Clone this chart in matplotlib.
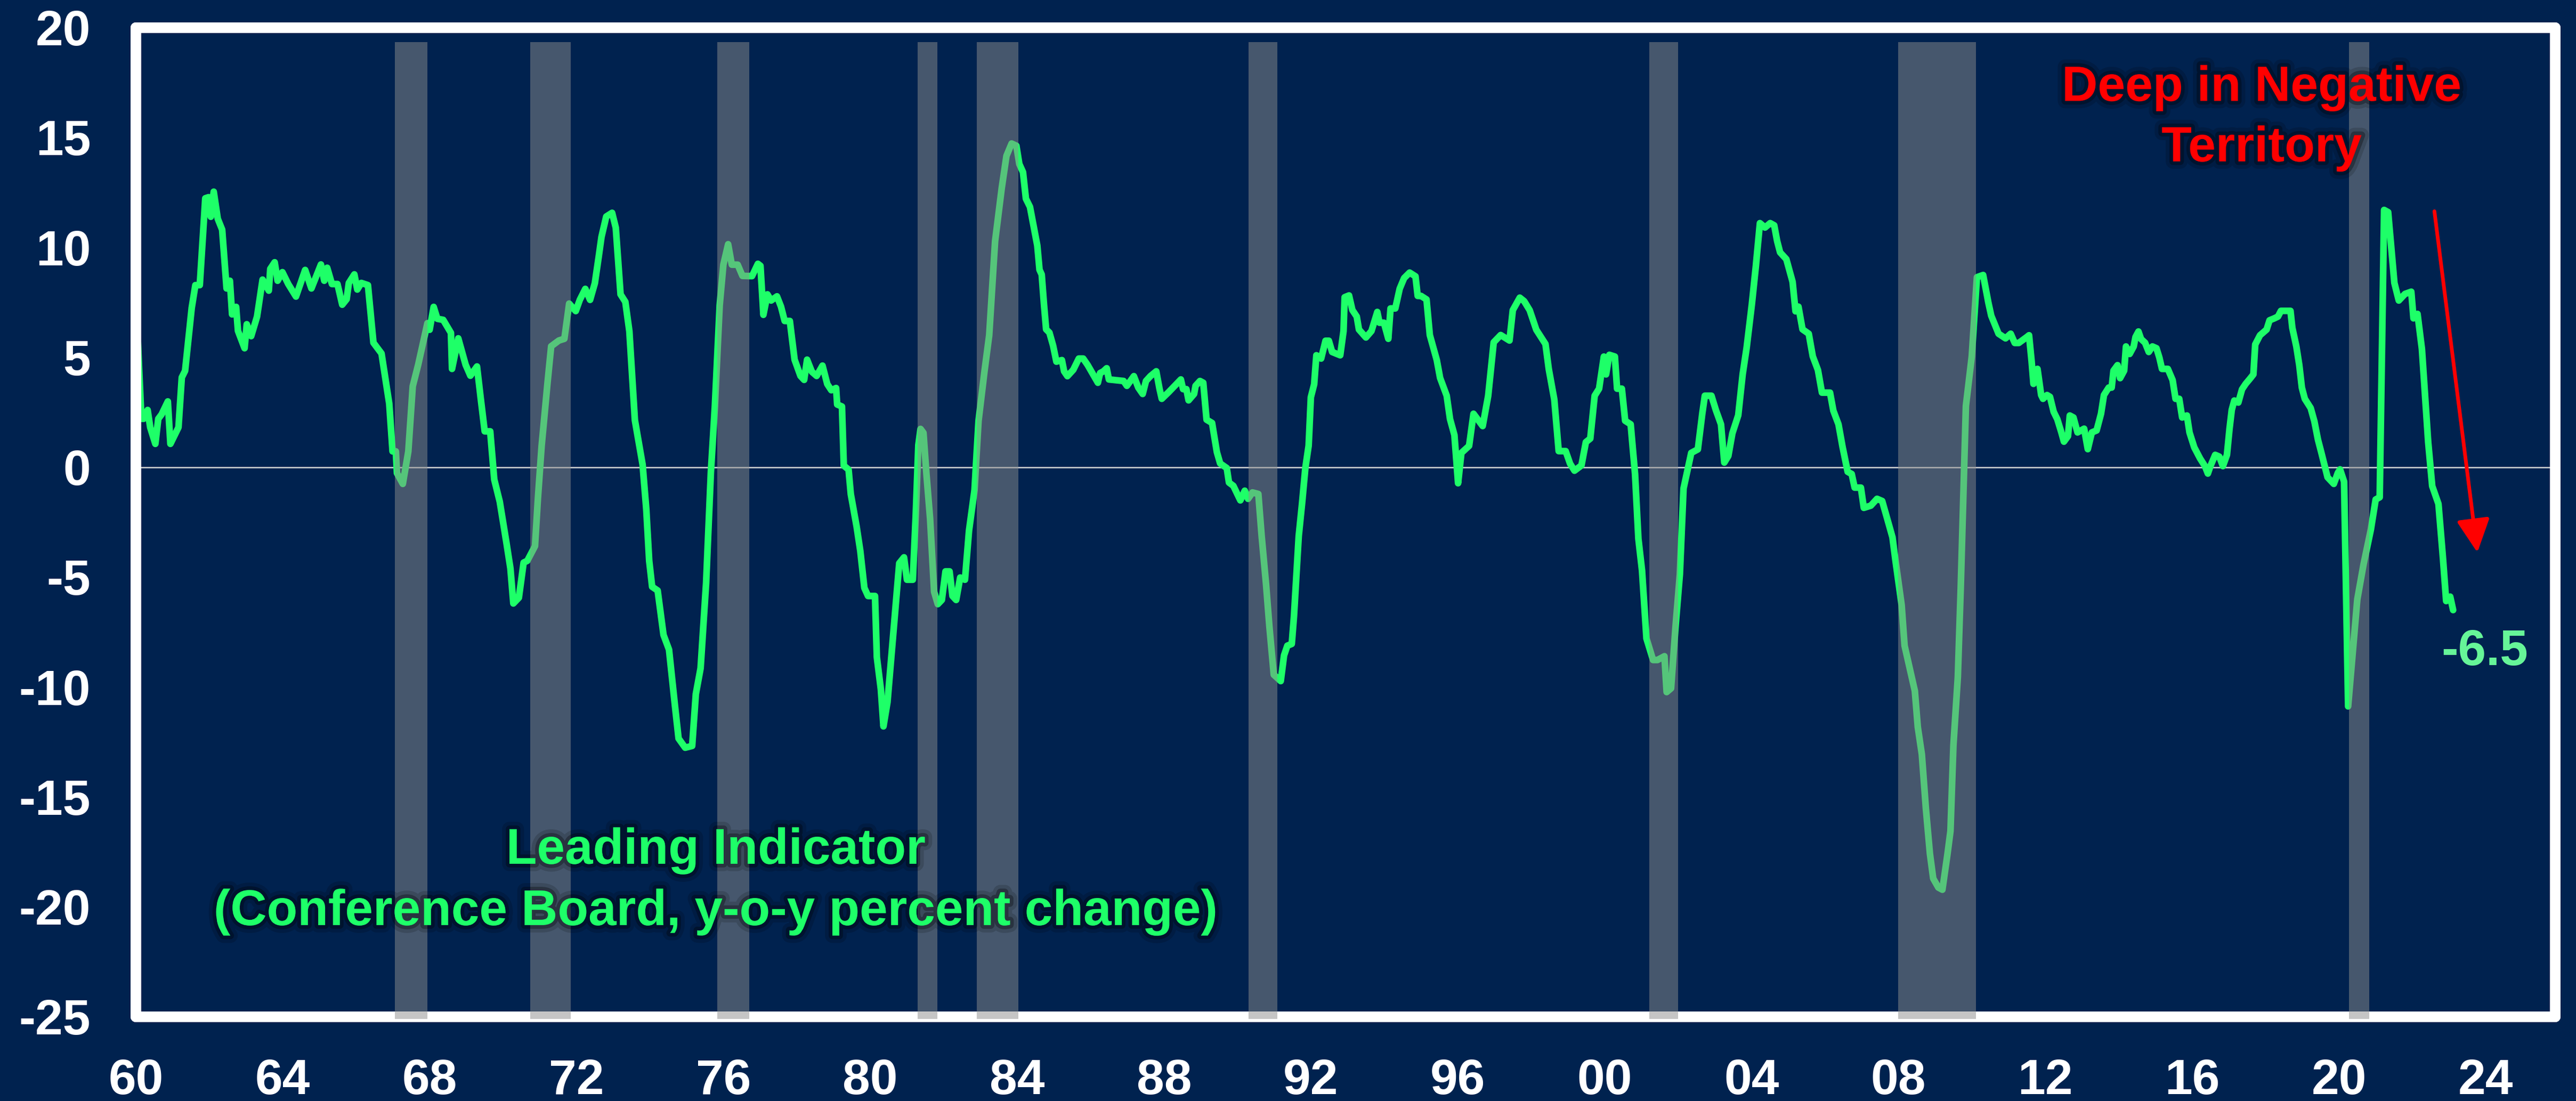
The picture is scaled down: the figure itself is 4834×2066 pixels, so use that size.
import matplotlib
matplotlib.use("Agg")
import matplotlib.pyplot as plt
import matplotlib.patheffects as pe
from matplotlib.patches import FancyArrowPatch

plt.rcParams['axes.unicode_minus'] = False

# Leading indicator, y-o-y % change
lei_year = [
    1960.04, 1960.15, 1960.21, 1960.32, 1960.39, 1960.53, 1960.61, 1960.70, 1960.87, 1960.94,
    1961.16, 1961.25, 1961.34, 1961.52, 1961.62, 1961.74, 1961.89, 1961.98, 1962.04, 1962.12,
    1962.23, 1962.35, 1962.47, 1962.56, 1962.62, 1962.73, 1962.78, 1962.96, 1963.02, 1963.14,
    1963.30, 1963.45, 1963.62, 1963.66, 1963.78, 1963.86, 1963.99, 1964.15, 1964.36, 1964.61,
    1964.78, 1965.04, 1965.13, 1965.21, 1965.34, 1965.49, 1965.62, 1965.74, 1965.80, 1965.95,
    1966.03, 1966.14, 1966.32, 1966.47, 1966.69, 1966.90, 1966.99, 1967.08, 1967.11, 1967.27,
    1967.42, 1967.54, 1967.69, 1967.94, 1968.00, 1968.11, 1968.21, 1968.37, 1968.58, 1968.61,
    1968.78, 1968.98, 1969.11, 1969.29, 1969.39, 1969.50, 1969.65, 1969.76, 1969.91, 1970.09,
    1970.20, 1970.28, 1970.43, 1970.56, 1970.66, 1970.87, 1970.95, 1971.05, 1971.21, 1971.31,
    1971.52, 1971.67, 1971.80, 1971.98, 1972.09, 1972.24, 1972.37, 1972.50, 1972.61, 1972.68,
    1972.81, 1972.97, 1973.07, 1973.20, 1973.33, 1973.44, 1973.59, 1973.80, 1973.90, 1973.98,
    1974.06, 1974.21, 1974.37, 1974.52, 1974.68, 1974.78, 1974.96, 1975.15, 1975.25, 1975.38,
    1975.53, 1975.66, 1975.77, 1975.90, 1976.00, 1976.13, 1976.23, 1976.39, 1976.52, 1976.78,
    1976.94, 1977.01, 1977.09, 1977.20, 1977.30, 1977.46, 1977.57, 1977.67, 1977.81, 1977.94,
    1978.10, 1978.20, 1978.28, 1978.41, 1978.54, 1978.70, 1978.83, 1978.94, 1979.07, 1979.10,
    1979.23, 1979.28, 1979.41, 1979.47, 1979.63, 1979.73, 1979.84, 1979.94, 1980.13, 1980.18,
    1980.29, 1980.36, 1980.47, 1980.63, 1980.79, 1980.92, 1981.00, 1981.16, 1981.24, 1981.31,
    1981.37, 1981.45, 1981.53, 1981.63, 1981.74, 1981.84, 1981.95, 1982.05, 1982.16, 1982.24,
    1982.34, 1982.45, 1982.58, 1982.69, 1982.84, 1982.95, 1983.11, 1983.24, 1983.40, 1983.58,
    1983.71, 1983.85, 1983.98, 1984.06, 1984.16, 1984.24, 1984.35, 1984.55, 1984.61, 1984.67,
    1984.73, 1984.79, 1984.88, 1984.98, 1985.07, 1985.22, 1985.28, 1985.37, 1985.53, 1985.68,
    1985.80, 1985.92, 1986.20, 1986.26, 1986.35, 1986.44, 1986.50, 1986.90, 1986.99, 1987.18,
    1987.30, 1987.42, 1987.51, 1987.63, 1987.79, 1987.88, 1987.94, 1988.12, 1988.46, 1988.52,
    1988.61, 1988.67, 1988.82, 1988.86, 1988.98, 1989.07, 1989.16, 1989.31, 1989.44, 1989.53,
    1989.71, 1989.77, 1989.89, 1990.08, 1990.20, 1990.29, 1990.41, 1990.57, 1990.66, 1990.78,
    1990.87, 1990.99, 1991.18, 1991.27, 1991.36, 1991.48, 1991.54, 1991.67, 1991.76, 1991.85,
    1991.94, 1992.00, 1992.09, 1992.15, 1992.28, 1992.40, 1992.49, 1992.58, 1992.80, 1992.89,
    1992.92, 1993.04, 1993.13, 1993.25, 1993.31, 1993.50, 1993.65, 1993.81, 1993.87, 1993.99,
    1994.11, 1994.17, 1994.30, 1994.42, 1994.54, 1994.69, 1994.85, 1994.91, 1995.00, 1995.15,
    1995.24, 1995.43, 1995.52, 1995.70, 1995.79, 1995.91, 1996.01, 1996.10, 1996.31, 1996.43,
    1996.68, 1996.83, 1996.98, 1997.17, 1997.41, 1997.50, 1997.69, 1997.81, 1997.96, 1998.14,
    1998.39, 1998.48, 1998.63, 1998.75, 1998.94, 1999.06, 1999.18, 1999.37, 1999.49, 1999.61,
    1999.73, 1999.85, 1999.98, 2000.04, 2000.13, 2000.28, 2000.34, 2000.47, 2000.56, 2000.71,
    2000.83, 2000.92, 2001.02, 2001.14, 2001.32, 2001.44, 2001.63, 2001.69, 2001.81, 2001.93,
    2002.05, 2002.15, 2002.36, 2002.54, 2002.66, 2002.73, 2002.91, 2003.03, 2003.17, 2003.26,
    2003.37, 2003.48, 2003.64, 2003.76, 2003.87, 2004.01, 2004.12, 2004.23, 2004.37, 2004.51,
    2004.62, 2004.70, 2004.78, 2004.95, 2005.12, 2005.20, 2005.28, 2005.39, 2005.56, 2005.67,
    2005.81, 2005.92, 2006.14, 2006.23, 2006.37, 2006.48, 2006.62, 2006.73, 2006.81, 2006.98,
    2007.06, 2007.25, 2007.42, 2007.56, 2007.70, 2007.84, 2007.92, 2008.09, 2008.17, 2008.31,
    2008.45, 2008.53, 2008.64, 2008.75, 2008.86, 2008.95, 2009.09, 2009.20, 2009.34, 2009.42,
    2009.50, 2009.62, 2009.70, 2009.84, 2010.00, 2010.14, 2010.31, 2010.45, 2010.53, 2010.73,
    2010.92, 2011.06, 2011.17, 2011.28, 2011.50, 2011.56, 2011.63, 2011.68, 2011.79, 2011.89,
    2011.94, 2012.05, 2012.13, 2012.23, 2012.33, 2012.44, 2012.51, 2012.62, 2012.67, 2012.77,
    2012.88, 2013.06, 2013.16, 2013.27, 2013.40, 2013.52, 2013.60, 2013.73, 2013.81, 2013.86,
    2013.97, 2014.04, 2014.15, 2014.20, 2014.30, 2014.41, 2014.46, 2014.54, 2014.61, 2014.72,
    2014.82, 2014.92, 2015.03, 2015.11, 2015.18, 2015.34, 2015.47, 2015.55, 2015.65, 2015.73,
    2015.86, 2015.93, 2016.06, 2016.22, 2016.35, 2016.43, 2016.50, 2016.63, 2016.74, 2016.84,
    2016.95, 2017.02, 2017.08, 2017.15, 2017.26, 2017.36, 2017.46, 2017.59, 2017.67, 2017.72,
    2017.85, 2018.03, 2018.11, 2018.24, 2018.34, 2018.42, 2018.55, 2018.68, 2018.73, 2018.84,
    2018.92, 2018.99, 2019.07, 2019.23, 2019.33, 2019.43, 2019.51, 2019.69, 2019.86, 2019.97,
    2020.03, 2020.14, 2020.25, 2020.50, 2020.67, 2020.87, 2021.00, 2021.11, 2021.23, 2021.34,
    2021.51, 2021.63, 2021.80, 2021.97, 2022.03, 2022.14, 2022.26, 2022.43, 2022.54, 2022.71,
    2022.83, 2022.92, 2023.03, 2023.11,
]
lei_value = [
    6.25, 2.20, 2.20, 2.60, 1.81, 1.06, 2.20, 2.40, 2.99, 1.06,
    1.81, 4.08, 4.38, 7.24, 8.28, 8.28, 12.23, 12.28, 11.39, 12.53,
    11.30, 10.80, 8.13, 8.48, 6.95, 7.29, 6.20, 5.41, 6.50, 5.96,
    6.85, 8.53, 8.03, 9.02, 9.32, 8.48, 8.87, 8.33, 7.76, 8.97,
    8.13, 9.22, 8.48, 9.07, 8.33, 8.33, 7.39, 7.64, 8.38, 8.77,
    8.08, 8.38, 8.28, 5.66, 5.17, 2.89, 0.72, 0.72, -0.27, -0.76,
    0.72, 3.68, 4.67, 6.55, 6.25, 7.29, 6.75, 6.70, 6.11, 4.47,
    5.86, 4.66, 4.16, 4.58, 3.15, 1.63, 1.63, -0.56, -1.57, -3.42,
    -4.60, -6.20, -5.94, -4.34, -4.26, -3.59, -1.40, 0.96, 3.82, 5.50,
    5.76, 5.84, 7.44, 7.10, 7.61, 8.11, 7.61, 8.37, 9.63, 10.47,
    11.40, 11.57, 10.89, 7.86, 7.52, 6.18, 2.14, 0.12, -1.90, -4.26,
    -5.44, -5.61, -7.63, -8.30, -10.83, -12.34, -12.76, -12.68, -10.32, -9.14,
    -5.27, -0.22, 2.81, 7.36, 9.21, 10.14, 9.21, 9.21, 8.70, 8.69,
    9.25, 9.16, 6.93, 7.86, 7.58, 7.77, 7.30, 6.65, 6.65, 4.89,
    4.15, 3.97, 4.89, 4.34, 4.15, 4.62, 3.78, 3.50, 3.60, 2.85,
    2.76, 0.07, -0.11, -1.22, -2.71, -3.82, -5.49, -5.86, -5.86, -8.64,
    -10.12, -11.79, -10.68, -7.53, -4.37, -4.10, -5.12, -5.12, -2.15, 1.00,
    1.74, 1.56, -0.30, -2.34, -5.67, -6.23, -6.04, -4.74, -4.74, -5.86,
    -6.04, -5.02, -5.12, -2.89, -1.04, 2.11, 4.34, 6.00, 10.27, 12.68,
    14.16, 14.72, 14.62, 13.79, 13.42, 12.21, 11.84, 10.08, 8.98, 8.76,
    7.44, 6.27, 6.12, 5.53, 4.80, 4.87, 4.36, 4.14, 4.43, 4.94,
    4.94, 4.65, 3.84, 4.28, 4.36, 4.50, 3.99, 3.92, 3.70, 4.14,
    3.62, 3.33, 3.92, 4.14, 4.36, 3.55, 3.11, 3.40, 3.99, 3.55,
    3.55, 3.04, 3.33, 3.70, 3.92, 3.84, 2.16, 2.01, 0.69, 0.17,
    -0.04, -0.70, -0.85, -1.51, -1.07, -1.44, -1.15, -1.22, -3.13, -5.33,
    -7.23, -9.44, -9.73, -8.56, -8.12, -8.04, -6.79, -3.13, -1.66, -0.04,
    0.98, 3.18, 3.77, 5.09, 4.94, 5.75, 5.75, 5.24, 5.09, 6.19,
    7.73, 7.81, 7.15, 6.85, 6.26, 5.90, 6.19, 7.06, 6.57, 6.57,
    5.84, 7.22, 7.22, 8.12, 8.60, 8.85, 8.68, 7.79, 7.79, 7.63,
    6.01, 4.87, 4.06, 3.25, 2.19, 1.46, -0.73, 0.65, 0.97, 2.43,
    1.87, 3.25, 5.68, 6.01, 5.76, 7.14, 7.71, 7.55, 7.14, 6.25,
    5.60, 4.46, 3.08, 0.73, 0.73, 0.16, -0.16, 0.08, 1.14, 1.30,
    3.25, 3.57, 5.03, 4.22, 5.11, 5.03, 3.57, 3.57, 2.11, 1.95,
    -0.32, -3.25, -4.71, -7.79, -8.77, -8.77, -8.60, -10.23, -10.06, -7.30,
    -4.87, -0.97, 0.65, 0.81, 2.43, 3.25, 3.25, 2.60, 1.95, 0.21,
    0.51, 1.54, 2.36, 4.22, 5.45, 7.40, 9.15, 11.10, 10.90, 11.10,
    11.00, 10.28, 9.77, 9.46, 8.43, 7.09, 7.30, 6.27, 6.07, 5.04,
    4.42, 3.39, 3.39, 2.57, 1.95, 0.93, -0.21, -0.31, -0.93, -0.93,
    -1.85, -1.75, -1.44, -1.54, -2.36, -3.19, -4.22, -6.27, -8.12, -9.15,
    -10.18, -11.82, -13.06, -15.52, -17.58, -18.71, -19.12, -19.22, -17.58, -16.55,
    -12.65, -9.56, -5.45, 2.78, 5.04, 8.64, 8.74, 7.50, 6.89, 6.07,
    5.86, 6.07, 5.65, 5.65, 5.92, 6.00, 4.81, 3.79, 4.47, 3.28,
    3.11, 3.28, 3.20, 2.52, 2.18, 1.58, 1.16, 1.41, 2.35, 2.26,
    1.58, 1.75, 0.82, 1.58, 1.67, 2.43, 3.28, 3.62, 3.62, 4.39,
    4.64, 4.05, 4.39, 5.49, 5.15, 5.49, 5.92, 6.17, 5.83, 5.66,
    5.24, 5.49, 5.41, 4.98, 4.47, 4.47, 3.96, 3.11, 3.11, 2.26,
    2.35, 1.58, 0.90, 0.39, 0.05, -0.29, 0.05, 0.56, 0.48, 0.05,
    0.56, 1.75, 2.60, 3.03, 2.94, 3.54, 3.79, 4.05, 4.22, 5.58,
    6.00, 6.26, 6.68, 6.77, 6.85, 7.11, 7.11, 7.11, 6.34, 5.49,
    4.64, 3.62, 3.11, 2.69, 2.09, 1.24, 0.73, -0.46, -0.76, -0.26,
    -0.10, -0.66, -10.88, -6.01, -4.42, -2.83, -1.47, -1.37, 11.70, 11.60,
    8.38, 7.58, 7.88, 7.98, 6.77, 6.97, 5.37, 1.15, -0.86, -1.67,
    -4.08, -6.09, -5.89, -6.50,
]

# shaded periods as drawn on the reference
recession_start = [1967.05, 1970.74, 1975.83, 1981.29, 1982.90, 1990.30, 2001.22, 2008.00, 2020.28]
recession_end = [1967.94, 1971.84, 1976.71, 1981.83, 1984.03, 1991.09, 2002.00, 2010.12, 2020.83]

x_ticks = list(range(1960, 2025, 4))
x_labels = ['60', '64', '68', '72', '76', '80', '84', '88', '92', '96',
            '00', '04', '08', '12', '16', '20', '24']
y_ticks = [-25, -20, -15, -10, -5, 0, 5, 10, 15, 20]

NAVY = '#00224F'
GREEN = '#1EFF68'
FONT = 'Liberation Sans'

fig = plt.figure(figsize=(48.34, 20.66), dpi=100, facecolor=NAVY)
ax = fig.add_axes([0.05275, 0.07648, 0.93918, 0.89857])
ax.set_facecolor(NAVY)

ax.plot(lei_year, lei_value, color=GREEN, lw=9, solid_joinstyle='round',
        solid_capstyle='round', zorder=2)
ax.axhline(0, color='#D8D8D8', lw=1.8, zorder=1)

for s, e in zip(recession_start, recession_end):
    ax.axvspan(s, e, ymin=-0.002, ymax=0.985, color='#8C8C8C', alpha=0.5,
               lw=0, zorder=3, clip_on=False)

ax.set_xlim(1960, 2025.89)
ax.set_ylim(-25, 20)
ax.set_xticks(x_ticks)
ax.set_xticklabels(x_labels)
ax.set_yticks(y_ticks)
ax.tick_params(axis='both', length=0, colors='white', labelsize=67)
ax.tick_params(axis='y', pad=61)
ax.tick_params(axis='x', pad=56)
for lab in ax.get_xticklabels() + ax.get_yticklabels():
    lab.set_fontfamily(FONT)
    lab.set_fontweight('bold')

for sp in ax.spines.values():
    sp.set_color('white')
    sp.set_linewidth(14.4)
    sp.set_capstyle('round')
    sp.set_zorder(2.5)

glow = [pe.Stroke(linewidth=20, foreground='black', alpha=0.15),
        pe.Stroke(linewidth=10, foreground='black', alpha=0.3),
        pe.Normal()]

ax.text(1975.8, -18.04, 'Leading Indicator', color=GREEN, fontsize=68,
        fontfamily=FONT, fontweight='bold', ha='center', va='baseline',
        path_effects=glow, zorder=6)
ax.text(1975.8, -20.83, '(Conference Board, y-o-y percent change)', color=GREEN,
        fontsize=68, fontfamily=FONT, fontweight='bold', ha='center',
        va='baseline', path_effects=glow, zorder=6)

ax.text(2017.89, 16.66, 'Deep in Negative', color='#FF0000', fontsize=67,
        fontfamily=FONT, fontweight='bold', ha='center', va='baseline',
        path_effects=glow, zorder=6, clip_on=False)
ax.text(2017.89, 13.91, 'Territory', color='#FF0000', fontsize=67,
        fontfamily=FONT, fontweight='bold', ha='center', va='baseline',
        path_effects=glow, zorder=6, clip_on=False)

ax.text(2023.97, -9.0, f'{lei_value[-1]:.1f}', color='#66F598', fontsize=68,
        fontfamily=FONT, fontweight='bold', ha='center', va='baseline', zorder=6)

arrow = FancyArrowPatch((2022.6, 11.64), (2023.77, -3.88), arrowstyle='-|>',
                        mutation_scale=95, lw=5, color='#FF0000',
                        shrinkA=0, shrinkB=0, zorder=6)
ax.add_patch(arrow)

fig.savefig('out.png', dpi=100, facecolor=NAVY)
